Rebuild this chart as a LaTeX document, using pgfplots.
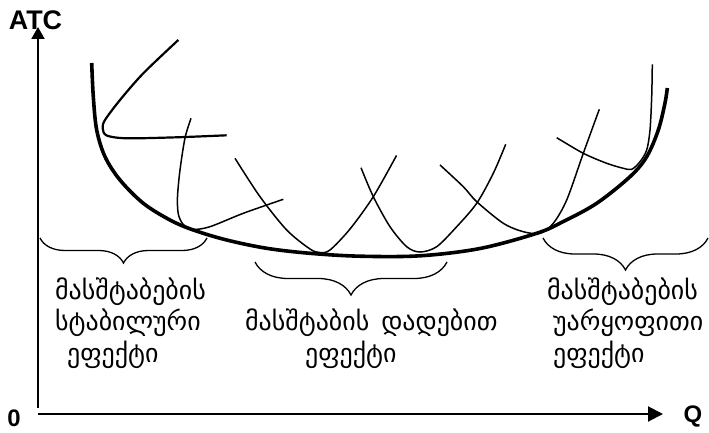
\documentclass[border=0pt]{standalone}
\usepackage{pgfplots}
\pgfplotsset{compat=1.18}
\usepackage{fontspec}
\setmainfont{Liberation Sans}
\newfontfamily\geo{DejaVu Sans}
\usetikzlibrary{arrows.meta,decorations.pathreplacing}
\begin{document}
\begin{tikzpicture}
\begin{axis}[scale only axis, width=709bp, height=433bp,
  xmin=0, xmax=709, ymin=0, ymax=433, y dir=reverse,
  hide axis, clip=false]
\path (rel axis cs:0,0) rectangle (rel axis cs:1,1);
% axes
\addplot[line width=2bp, -{Triangle[length=12bp,width=13bp]}] coordinates {(38,408) (38,27)};
\addplot[line width=2bp, -{Triangle[length=15bp,width=15bp]}] coordinates {(38,414) (663,414)};
% LRAC envelope
\addplot[line width=3.6bp, smooth, tension=0.55] coordinates {
(91.7,63) (93.3,96.7) (96.7,130) (105,156.7) (120,180) (143.3,203.3) (170,220) (193.3,230)
(226.7,240) (266.7,248.3) (310,253.3) (360,256.2) (420,255.8) (480,248.5) (536.7,233.3)
(563,221.7) (596.7,203.3) (630,176.7) (646.7,156.7) (658.3,130) (665,103) (667.3,88)};
% SAC1
\addplot[line width=2.2bp, smooth, tension=0.5] coordinates {
(178.3,40) (143.3,73.3) (120,100) (105,120) (102.7,128.3) (106.7,135.5) (126.7,138.3) (176.7,137.3) (226.7,135.3)};
% SAC2
\addplot[line width=1.5bp, smooth, tension=0.5] coordinates {
(191,118.3) (185,138) (180,170) (177.5,196.7) (178.3,214) (183.3,224.5) (193.3,229.3) (210,226.7) (243.3,213.3) (283.3,199.3)};
% SAC3
\addplot[line width=1.5bp, smooth, tension=0.5] coordinates {
(235,158.3) (260,196.7) (286.7,230) (310,249) (320,252.5) (330,250) (350,229) (373.3,196.7) (396.5,155.5)};
% SAC4
\addplot[line width=1.5bp, smooth, tension=0.5] coordinates {
(361,167.7) (373.3,196.7) (390,226.7) (406.7,246.7) (420,252) (436.7,246.7) (456.7,226.7) (476.7,203.3) (493.3,173.3) (505.7,144.3)};
% SAC5
\addplot[line width=1.5bp, smooth, tension=0.5] coordinates {
(440,165) (463.3,186.7) (476.7,201.7) (503.3,223.3) (523.3,231.7) (540,233.3) (553.3,223.3) (566.7,200) (583.3,153.3) (599.3,109.3)};
% SAC6
\addplot[line width=1.5bp, smooth, tension=0.5] coordinates {
(556.7,137.7) (583.3,153.3) (606.7,163.3) (623.3,168.3) (631.7,169.3) (640,161.7) (646.7,150) (650,130) (651.7,96.7) (652.3,64.3)};
% braces
\draw[line width=1.3bp, decorate, decoration={brace, mirror, amplitude=25bp}] (axis cs:40,238) -- (axis cs:207,238);
\draw[line width=1.3bp, decorate, decoration={brace, mirror, amplitude=33bp}] (axis cs:255,262) -- (axis cs:447,262);
\draw[line width=1.3bp, decorate, decoration={brace, mirror, amplitude=32bp}] (axis cs:543,238) -- (axis cs:708,238);
% labels
\node[font=\bfseries\fontsize{27}{27}\selectfont, inner sep=0] at (axis cs:35.5,20) {ATC};
\node[font=\bfseries\fontsize{24}{24}\selectfont, inner sep=0] at (axis cs:14,418) {0};
\node[font=\bfseries\fontsize{24}{24}\selectfont, inner sep=0] at (axis cs:693,416) {Q};
\begin{scope}[every node/.style={font=\geo\fontsize{26}{26}\selectfont, inner sep=0, anchor=west}]
\node at (axis cs:55,292) {მასშტაბების};
\node at (axis cs:55,323) {სტაბილური};
\node at (axis cs:67,355) {ეფექტი};
\node at (axis cs:245,323) {მასშტაბის\hspace{12bp}დადებით};
\node at (axis cs:305,355) {ეფექტი};
\node at (axis cs:547,292) {მასშტაბების};
\node at (axis cs:553,323) {უარყოფითი};
\node at (axis cs:553,355) {ეფექტი};
\end{scope}
\end{axis}
\end{tikzpicture}
\end{document}
